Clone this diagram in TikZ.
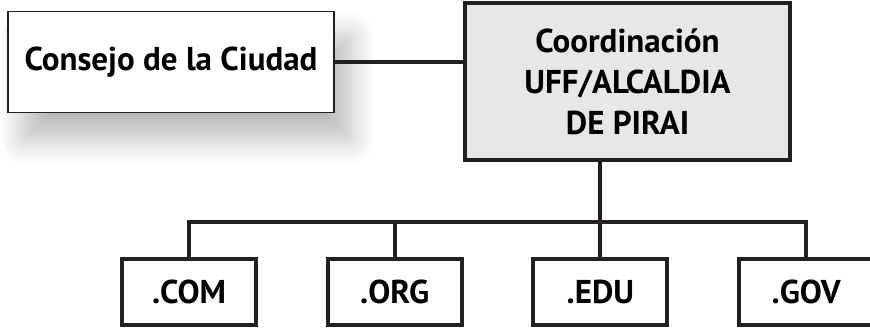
\documentclass[tikz,border=0pt]{standalone}
\usepackage{fontspec}
\setmainfont{PT Sans}
\usetikzlibrary{positioning,shadows.blur}
\definecolor{inkline}{HTML}{231F20}
\definecolor{boxgray}{HTML}{E6E7E8}
\tikzset{%
  every unit/.style={
    rectangle,
    draw=inkline,
    line width=2pt,
    fill=white,
    minimum width=67pt,
    minimum height=33pt,
    inner sep=0pt,
    font=\fontsize{16.5}{19}\selectfont\bfseries
  },
  council box/.style={
    rectangle,
    draw=inkline,
    line width=0.75pt,
    fill=white,
    minimum width=163pt,
    minimum height=50.5pt,
    inner sep=0pt,
    font=\fontsize{16.5}{19}\selectfont\bfseries,
    blur shadow={shadow xshift=8pt, shadow yshift=-13pt,
      shadow blur radius=13pt, shadow opacity=28, shadow blur steps=12}
  },
  coord box/.style={
    rectangle,
    draw=inkline,
    line width=2pt,
    fill=boxgray,
    minimum width=162.5pt,
    minimum height=78.5pt,
    inner sep=0pt,
    align=center,
    font=\fontsize{16.5}{20.5}\selectfont\bfseries
  },
  link/.style={draw=inkline, line width=2pt}
}

\begin{document}
\begin{tikzpicture}[x=0.5pt, y=-0.5pt]

  \useasboundingbox (0,0) rectangle (870,335);

  % Top boxes
  \node [council box] (council) at (171,62) {Consejo de la Ciudad};
  \node [coord box] (coord) at (627.5,81.5)
    {Coordinación\\UFF/ALCALDIA\\DE PIRAI};

  % Domain boxes
  \foreach \m/\l [count=\i from 0] in {com/.COM,org/.ORG,edu/.EDU,gov/.GOV}
    \node [every unit] (unit-\m) at (189+205.7*\i,292) {\l};

  % Bus height
  \coordinate (bus) at (0,222);

  % Council to coordination
  \draw [link] (council.east) -- (council.east -| coord.west);

  % Coordination down to the bus
  \draw [link] (coord.south -| unit-edu.north) -- (unit-edu.north);

  % Bus and drops to the domain boxes
  \draw [link] (unit-com.north) -- (unit-com.north |- bus)
    -- (unit-gov.north |- bus) -- (unit-gov.north);
  \draw [link] (unit-org.north |- bus) -- (unit-org.north);

\end{tikzpicture}
\end{document}
